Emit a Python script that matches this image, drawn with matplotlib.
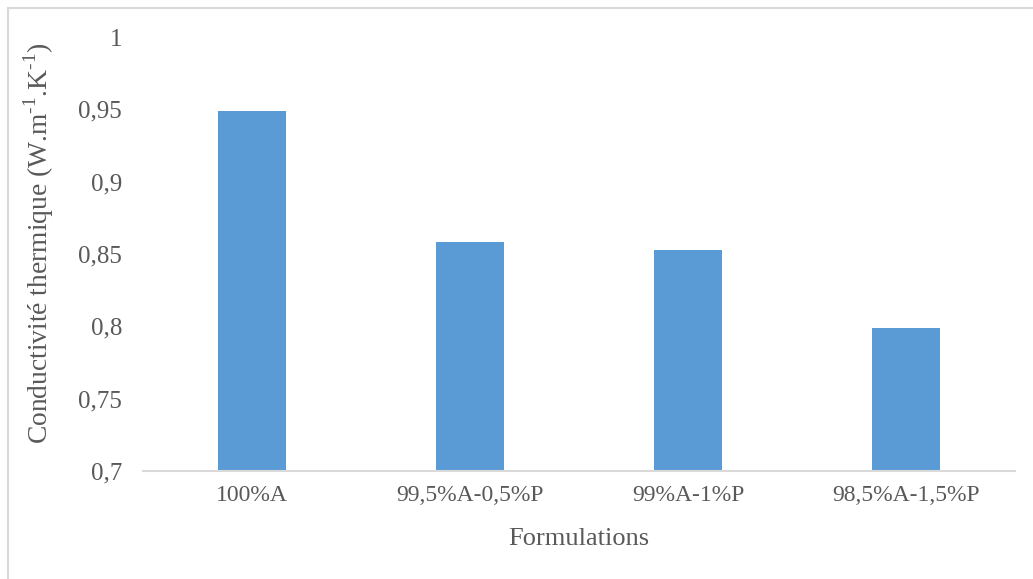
import matplotlib.pyplot as plt
from matplotlib.patches import Rectangle
from matplotlib.ticker import FuncFormatter

categories = ['100%A', '99,5%A-0,5%P', '99%A-1%P', '98,5%A-1,5%P']
values = [0.949, 0.858, 0.853, 0.799]
yticks = [0.7, 0.75, 0.8, 0.85, 0.9, 0.95, 1.0]

txt = '#595959'
plt.rcParams['font.family'] = ['Liberation Serif', 'DejaVu Serif']
plt.rcParams['mathtext.fontset'] = 'custom'
plt.rcParams['mathtext.rm'] = 'Liberation Serif'

fig = plt.figure(figsize=(10.33, 5.79), dpi=100)
# chart area border (cropped at right and bottom)
fig.patches.append(Rectangle((8 / 1033, -0.1), 1.2, 1 - 8 / 579 + 0.1,
                             transform=fig.transFigure, fill=False,
                             edgecolor='#D9D9D9', linewidth=1.5))

ax = fig.add_axes([143 / 1033, 1 - 471 / 579, 872 / 1033, (471 - 37) / 579])
x = range(len(categories))
ax.bar(x, values, width=0.31, color='#5B9BD5', zorder=2)

ax.set_xlim(-0.5, len(categories) - 0.5)
ax.set_ylim(0.7, 1.0)
ax.set_yticks(yticks)
ax.yaxis.set_major_formatter(FuncFormatter(lambda v, p: ('%g' % round(v, 2)).replace('.', ',')))
ax.set_xticks(list(x))
ax.set_xticklabels(categories)

for s in ['top', 'right', 'left']:
    ax.spines[s].set_visible(False)
ax.spines['bottom'].set_color('#D9D9D9')
ax.spines['bottom'].set_linewidth(1.5)
ax.tick_params(axis='both', length=0, colors=txt)
ax.tick_params(axis='y', pad=15, labelsize=18)
ax.tick_params(axis='x', pad=10, labelsize=17)

ax.set_xlabel('Formulations', fontsize=19, color=txt, labelpad=16)
ax.set_ylabel('Conductivité thermique (W.m$^{\\mathrm{\u20101}}$.K$^{\\mathrm{\u20101}}$)',
              fontsize=19.8, color=txt)
ax.yaxis.set_label_coords(-0.1, 0.525)

fig.savefig('out.png', dpi=100)
